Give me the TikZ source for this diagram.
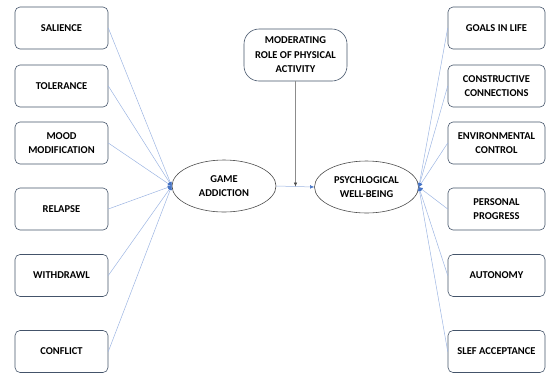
\documentclass[tikz,border=0pt]{standalone}
\usepackage{fontspec}
\setmainfont{Carlito}
\usetikzlibrary{arrows.meta,shapes.geometric}
\definecolor{boxc}{HTML}{44546A}
\definecolor{linec}{HTML}{9DB5E2}
\definecolor{tipc}{HTML}{4472C4}
\begin{document}
\begin{tikzpicture}[x=1pt,y=-1pt,
  lbl/.style={font=\bfseries\fontsize{10.5}{14.5}\selectfont, align=center, inner sep=0pt},
  sidebox/.style={lbl, draw=boxc, line width=0.6pt, rounded corners=5pt, minimum height=42pt},
  leftbox/.style={sidebox, minimum width=93pt},
  rightbox/.style={sidebox, minimum width=97pt},
  oval/.style={lbl, draw=black!70, line width=0.6pt, ellipse, minimum width=104pt, minimum height=52pt},
  conn/.style={draw=linec, line width=0.5pt, -{Latex[length=4pt,width=3.5pt,color=tipc]}},
]
\useasboundingbox (0,0) rectangle (546,373);
% left boxes
\node[leftbox] (sal) at (61.5,28) {SALIENCE};
\node[leftbox] (tol) at (61.5,86) {TOLERANCE};
\node[leftbox] (mood) at (61.5,143) {MOOD\\MODIFICATION};
\node[leftbox] (rel) at (61.5,209) {RELAPSE};
\node[leftbox] (wd) at (61.5,275.5) {WITHDRAWL};
\node[leftbox] (con) at (61.5,351.5) {CONFLICT};
% right boxes
\node[rightbox] (goal) at (496.5,28) {GOALS IN LIFE};
\node[rightbox] (cc) at (496.5,86) {CONSTRUCTIVE\\CONNECTIONS};
\node[rightbox] (env) at (496.5,143) {ENVIRONMENTAL\\CONTROL};
\node[rightbox] (pp) at (496.5,209) {PERSONAL\\PROGRESS};
\node[rightbox] (aut) at (496.5,275.5) {AUTONOMY};
\node[rightbox] (sa) at (496.5,351.5) {SLEF ACCEPTANCE};
% centre
\node[oval] (ga) at (224,186) {GAME\\ADDICTION};
\node[oval] (pwb) at (366.5,187) {PSYCHLOGICAL\\WELL-BEING};
\node[lbl, draw=boxc, line width=0.6pt, rounded corners=15pt, minimum width=103pt, minimum height=52pt] (mod) at (295.5,55) {MODERATING\\ROLE OF PHYSICAL\\ACTIVITY};
\coordinate (mid) at (295.5,186.5);
% connectors
\foreach \b in {sal,tol,mood,rel,wd,con} \draw[conn] (\b.east) -- (ga.west);
\foreach \b in {goal,cc,env,pp,aut,sa} \draw[conn] (\b.west) -- (pwb.east);
\draw[conn] (ga.east) -- (pwb.west);
\draw[draw=black!45, line width=0.5pt, -{Latex[length=4pt,width=3.5pt,color=black!70]}] (mod.south) -- (mid);
\end{tikzpicture}
\end{document}
